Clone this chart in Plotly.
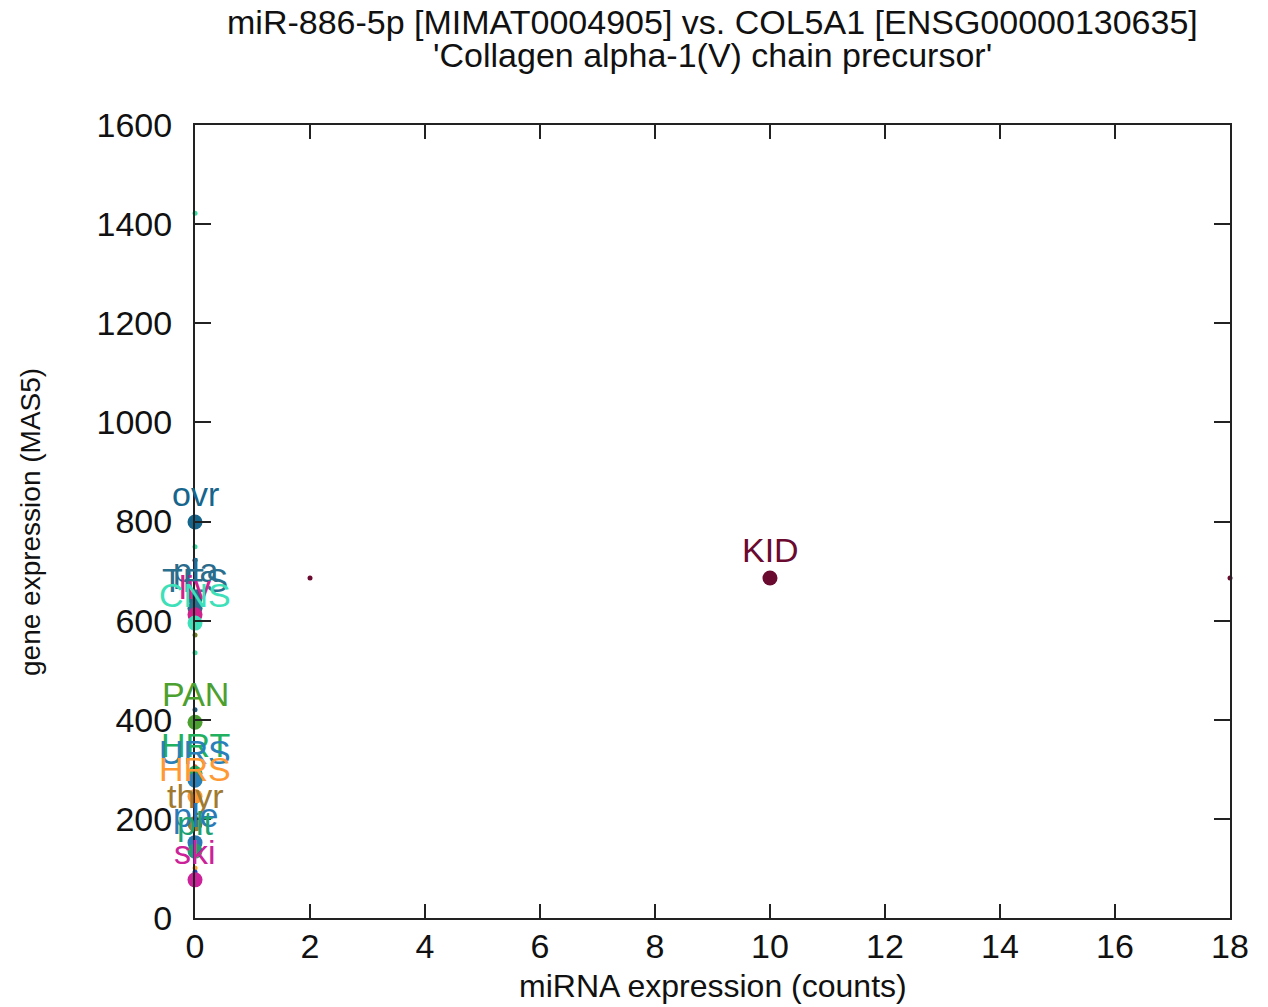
import plotly.graph_objects as go

# Labelled tissue points
tissues = ["ovr", "pla", "TES", "liv", "CNS", "PAN", "HRT", "URS", "HRS", "thyr", "ple", "plt", "ski", "KID"]
mirna = [0, 0, 0, 0, 0, 0, 0, 0, 0, 0, 0, 0, 0, 10]
gene = [799, 645, 625, 612, 595, 395, 292, 278, 245, 190, 152, 135, 77, 686]
colors = ["#15658c", "#2a6a8a", "#2b6f8f", "#d0208a", "#3de0b8", "#4ca030", "#20b060",
          "#2a80b8", "#ff9933", "#a07a30", "#2a7ab8", "#20a070", "#cc2299", "#6a0a30"]

# Small unlabelled points
small_x = [0, 0, 0, 0, 0, 0, 0, 0, 0, 2, 18]
small_y = [1422, 749, 722, 571, 535, 420, 305, 101, 93, 686, 686]
small_colors = ["#30e0a0", "#30e0a0", "#203040", "#708020", "#30e0a0", "#1a5a80",
                "#ff6020", "#ffa020", "#2040d0", "#6a0a30", "#6a0a30"]

x_ticks = [0, 2, 4, 6, 8, 10, 12, 14, 16, 18]
y_ticks = [0, 200, 400, 600, 800, 1000, 1200, 1400, 1600]

title1 = "miR-886-5p [MIMAT0004905] vs. COL5A1 [ENSG00000130635]"
title2 = "'Collagen alpha-1(V) chain precursor'"
x_title = "miRNA expression (counts)"
y_title = "gene expression (MAS5)"

FONT = "Liberation Sans, Arial, sans-serif"
HS = 34  # horizontal text size

fig = go.Figure()
fig.add_trace(go.Scatter(x=small_x, y=small_y, mode="markers",
                         marker=dict(size=5, color=small_colors), cliponaxis=False,
                         hoverinfo="skip", showlegend=False))
fig.add_trace(go.Scatter(x=mirna, y=gene, mode="markers",
                         marker=dict(size=15, color=colors), cliponaxis=False,
                         showlegend=False))

for t, xv, yv, c in zip(tissues, mirna, gene, colors):
    fig.add_annotation(x=xv, y=yv, text=t, showarrow=False, yshift=28,
                       xanchor="center", yanchor="middle",
                       font=dict(family=FONT, size=HS, color=c))

L, R, T, B = 195, 38, 125, 89
W, H = 1268, 1007
ph = H - T - B

fig.add_annotation(xref="paper", yref="paper", x=0.5, y=1 + (T - 22) / ph, text=title1,
                   showarrow=False, xanchor="center", yanchor="middle",
                   font=dict(family=FONT, size=HS, color="#111"))
fig.add_annotation(xref="paper", yref="paper", x=0.5, y=1 + (T - 55) / ph, text=title2,
                   showarrow=False, xanchor="center", yanchor="middle",
                   font=dict(family=FONT, size=HS, color="#111"))
fig.add_annotation(xref="paper", yref="paper", x=0.5, y=-(986 - (H - B)) / ph, text=x_title,
                   showarrow=False, xanchor="center", yanchor="middle",
                   font=dict(family=FONT, size=32, color="#111"))
fig.add_annotation(xref="paper", yref="paper", x=-(L - 30) / (W - L - R), y=(H - B - 522) / ph,
                   text=y_title, textangle=-90, showarrow=False,
                   xanchor="center", yanchor="middle",
                   font=dict(family=FONT, size=28, color="#111"))

axis_common = dict(showgrid=False, zeroline=False, showline=True, linecolor="#222",
                   linewidth=2, mirror="allticks", ticks="inside", tickcolor="#222",
                   tickwidth=2, tickfont=dict(family=FONT, size=HS, color="#111"))

fig.update_xaxes(range=[0, 18], tickvals=x_ticks, ticklen=14, ticklabelstandoff=-3,
                 **axis_common)
fig.update_yaxes(range=[0, 1600], tickvals=y_ticks, ticklen=16, ticklabelstandoff=14,
                 **axis_common)

fig.update_layout(width=W, height=H, margin=dict(l=L, r=R, t=T, b=B, autoexpand=False),
                  plot_bgcolor="white", paper_bgcolor="white",
                  font=dict(family=FONT))

fig.write_html("out.html")
